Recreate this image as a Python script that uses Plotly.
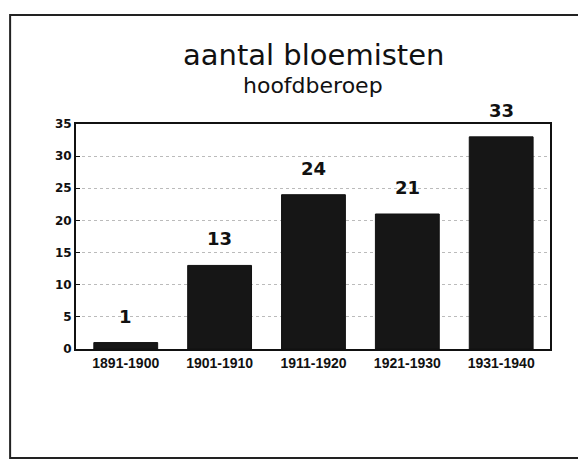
import plotly.graph_objects as go

categories = ["1891-1900", "1901-1910", "1911-1920", "1921-1930", "1931-1940"]
values = [1, 13, 24, 21, 33]
y_ticks = [0, 5, 10, 15, 20, 25, 30, 35]

FONT = "Liberation Sans, Arial, sans-serif"
WIDE = "DejaVu Sans, Verdana, sans-serif"

fig = go.Figure()
fig.add_trace(go.Bar(
    x=categories, y=values,
    marker=dict(color="#161616", line=dict(color="#111111", width=1)),
    width=0.68,
    hoverinfo="skip",
))

for c, v in zip(categories, values):
    fig.add_annotation(x=c, y=v, xref="x", yref="y", text=str(v),
                       showarrow=False, yanchor="bottom", yshift=14,
                       font=dict(family=WIDE, size=18, color="#111111",
                                 weight="bold"))

fig.add_annotation(x=0.5, y=1.307, xref="paper", yref="paper",
                   text="aantal bloemisten", showarrow=False,
                   xanchor="center", yanchor="middle",
                   font=dict(family=WIDE, size=29, color="#111111"))
fig.add_annotation(x=0.5, y=1.169, xref="paper", yref="paper",
                   text="hoofdberoep", showarrow=False,
                   xanchor="center", yanchor="middle",
                   font=dict(family=WIDE, size=22, color="#111111"))

# outer frame of the figure
fig.add_shape(type="rect", xref="paper", yref="paper",
              x0=-0.139, x1=1.084, y0=-0.484, y1=1.484,
              line=dict(color="#222222", width=2), layer="below")

fig.update_layout(
    width=586, height=463,
    margin=dict(l=68, r=44, t=116, b=122),
    paper_bgcolor="white", plot_bgcolor="white",
    showlegend=False,
)
fig.update_xaxes(
    type="category", categoryorder="array", categoryarray=categories,
    range=[-0.53, 4.52],
    showline=True, linecolor="#111111", linewidth=2, mirror=True,
    showgrid=False, ticks="",
    tickfont=dict(family=FONT, size=14, color="#111111", weight="bold"),
)
fig.update_yaxes(
    range=[0, 35], tickvals=y_ticks,
    showline=True, linecolor="#111111", linewidth=2, mirror=True,
    showgrid=True, gridcolor="#bbbbbb", gridwidth=1, griddash="dot",
    ticks="inside", ticklen=4, tickcolor="#111111",
    tickfont=dict(family=WIDE, size=12, color="#111111", weight="bold"),
    zeroline=False,
)

fig.write_html("out.html")
